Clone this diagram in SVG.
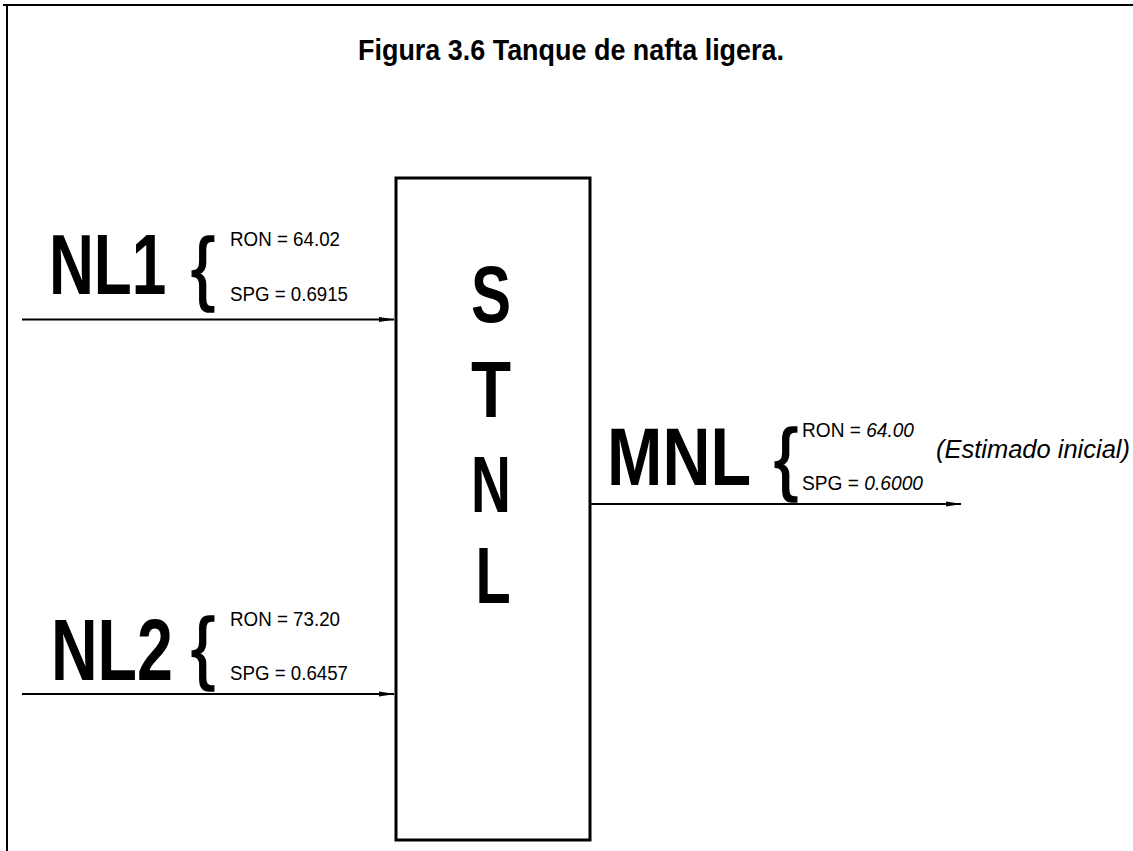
<svg xmlns="http://www.w3.org/2000/svg" width="1133" height="851" viewBox="0 0 1133 851">
<defs>
<style>
.frame{stroke:#000;stroke-width:2;fill:none}
.box{stroke:#000;stroke-width:3;fill:#fff}
.conn{stroke:#000;stroke-width:1.8;fill:none}
.big{font-family:"Liberation Sans",Arial,sans-serif;font-weight:bold;fill:#000}
.lbl{font-family:"Liberation Sans",Arial,sans-serif;font-size:20px;fill:#000}
.brace{font-family:"Liberation Sans",Arial,sans-serif;font-weight:normal;fill:#000;stroke:#000;stroke-width:1.5}
.it{font-style:italic}
</style>
<marker id="arr" viewBox="0 0 16 8" refX="15" refY="4" markerWidth="16" markerHeight="8" markerUnits="userSpaceOnUse" orient="auto">
<path d="M0,1.5 L16,4 L0,6.5 Z" fill="#000"/>
</marker>
</defs>
<rect width="1133" height="851" fill="#fff"/>
<g id="frame">
<line class="frame" x1="3" y1="5" x2="1133" y2="5"/>
<line class="frame" x1="7" y1="5" x2="7" y2="851"/>
</g>
<text id="title" class="big" x="358" y="60" font-size="30" textLength="426" lengthAdjust="spacingAndGlyphs">Figura 3.6  Tanque de nafta ligera.</text>
<g id="connectors">
<line class="conn" x1="22" y1="319.5" x2="394" y2="319.5" marker-end="url(#arr)"/>
<line class="conn" x1="22" y1="694" x2="394" y2="694" marker-end="url(#arr)"/>
<line class="conn" x1="591" y1="504" x2="961" y2="504" marker-end="url(#arr)"/>
</g>
<g id="STNL">
<rect class="box" x="396" y="178" width="194" height="662"/>
<text class="big" transform="translate(491,322) scale(0.75,1)" font-size="80" text-anchor="middle">S</text>
<text class="big" transform="translate(491,417) scale(0.82,1)" font-size="80" text-anchor="middle">T</text>
<text class="big" transform="translate(491,512) scale(0.69,1)" font-size="80" text-anchor="middle">N</text>
<text class="big" transform="translate(493,603) scale(0.72,1)" font-size="80" text-anchor="middle">L</text>
</g>
<g id="NL1">
<text class="big" transform="translate(49,294) scale(0.731,1)" font-size="85">NL1</text>
<text class="brace" transform="translate(191,295) scale(0.876,1)" font-size="82">{</text>
<text class="lbl" x="230" y="246" textLength="110" lengthAdjust="spacingAndGlyphs">RON = 64.02</text>
<text class="lbl" x="230" y="301" textLength="118" lengthAdjust="spacingAndGlyphs">SPG = 0.6915</text>
</g>
<g id="NL2">
<text class="big" transform="translate(51,680) scale(0.742,1)" font-size="87">NL2</text>
<text class="brace" transform="translate(191,674) scale(0.9,1)" font-size="80">{</text>
<text class="lbl" x="230" y="626" textLength="110" lengthAdjust="spacingAndGlyphs">RON = 73.20</text>
<text class="lbl" x="230" y="680" textLength="118" lengthAdjust="spacingAndGlyphs">SPG = 0.6457</text>
</g>
<g id="MNL">
<text class="big" transform="translate(607,485) scale(0.811,1)" font-size="82">MNL</text>
<text class="brace" transform="translate(774,485) scale(0.9,1)" font-size="80">{</text>
<text class="lbl" x="802" y="437" textLength="112" lengthAdjust="spacingAndGlyphs">RON = <tspan class="it">64.00</tspan></text>
<text class="lbl" x="802" y="490" textLength="121" lengthAdjust="spacingAndGlyphs">SPG = <tspan class="it">0.6000</tspan></text>
<text class="lbl it" x="936" y="458" style="font-size:25px" textLength="194" lengthAdjust="spacingAndGlyphs">(Estimado inicial)</text>
</g>
</svg>
